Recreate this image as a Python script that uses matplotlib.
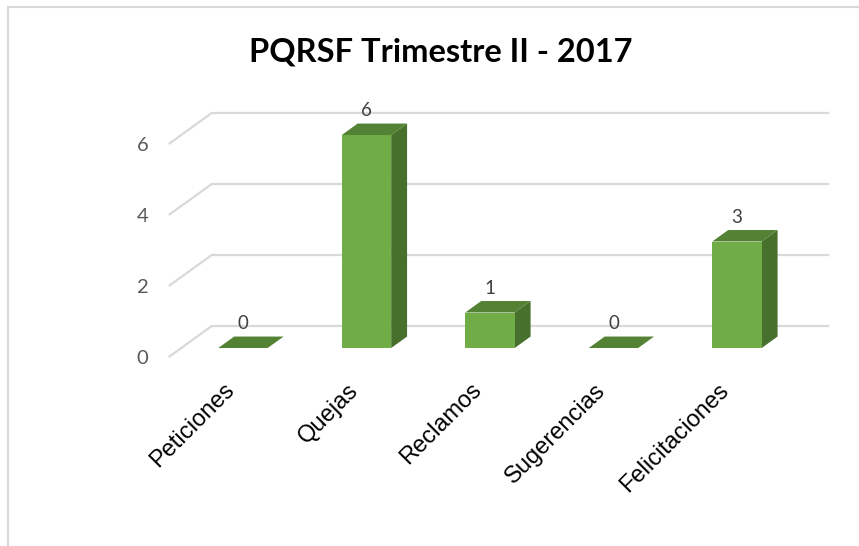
import matplotlib
matplotlib.use('Agg')
import matplotlib.pyplot as plt
import matplotlib.transforms as mtransforms
from matplotlib.patches import Polygon, Rectangle

# ---- data ----
categories = ['Peticiones', 'Quejas', 'Reclamos', 'Sugerencias', 'Felicitaciones']
values = [0, 6, 1, 0, 3]
yticks = [0, 2, 4, 6]
title = 'PQRSF Trimestre II - 2017'

# ---- style / layout ----
W, H, DPI = 859, 546, 100
FRONT, TOP, SIDE = '#70AD47', '#548235', '#46702C'
GRID = '#D9D9D9'

fig = plt.figure(figsize=(W / DPI, H / DPI), dpi=DPI)
fig.patch.set_facecolor('white')

AX_L, AX_R = 168.75, 786.25       # pixels of the front floor edge
FLOOR_Y, PX_UNIT, YMAX = 357, 35.5, 7
ax = fig.add_axes([AX_L / W, (H - FLOOR_Y) / H, (AX_R - AX_L) / W, YMAX * PX_UNIT / H])
ax.set_xlim(-0.5, len(categories) - 0.5)
ax.set_ylim(0, YMAX)
ax.patch.set_visible(False)
for s in ax.spines.values():
    s.set_visible(False)

px_x = (AX_R - AX_L) / len(categories)
DX, DY = 43 / px_x, 31 / PX_UNIT   # full floor depth in data units


def at(x, y, d):
    return (x + d * DX, y + d * DY)


# gridlines (3D walls)
x0, x1 = ax.get_xlim()
for v in yticks:
    p = [at(x0, v, 0), at(x0, v, 1), at(x1, v, 1)]
    ax.plot([q[0] for q in p], [q[1] for q in p], color=GRID, lw=1.6,
            clip_on=False, zorder=1, solid_capstyle='butt')

# bars
D0, D1, BW = 0.29, 0.66, 0.2
for i, v in enumerate(values):
    xl, xr = i - BW, i + BW
    if v > 0:
        ax.add_patch(Polygon([at(xr, 0, D0), at(xr, v, D0), at(xr, v, D1), at(xr, 0, D1)],
                             closed=True, facecolor=SIDE, edgecolor='none', zorder=3, clip_on=False))
        ax.add_patch(Polygon([at(xl, 0, D0), at(xr, 0, D0), at(xr, v, D0), at(xl, v, D0)],
                             closed=True, facecolor=FRONT, edgecolor='none', zorder=4, clip_on=False))
    ax.add_patch(Polygon([at(xl, v, D0), at(xr, v, D0), at(xr, v, D1), at(xl, v, D1)],
                         closed=True, facecolor=TOP, edgecolor='none', zorder=4, clip_on=False))
    ax.annotate(str(v), xy=at(i, v, D0), xytext=(0, 17.5), textcoords='offset points',
                ha='center', va='center', fontsize=13.5, color='#404040',
                family='Lato', annotation_clip=False, zorder=5)

ax.set_yticks(yticks)
ax.set_yticklabels([str(t) for t in yticks], family='Lato')
ax.tick_params(axis='y', length=0, pad=14.5, labelsize=14.5, labelcolor='#595959')

ax.set_xticks(range(len(categories)))
ax.set_xticklabels(categories, rotation=45, ha='right', va='top', rotation_mode='anchor',
                   fontsize=17, family='Liberation Sans', color='black')
ax.tick_params(axis='x', length=0, pad=16)
shift = mtransforms.ScaledTranslation(-7 / DPI, 0, fig.dpi_scale_trans)
for lb in ax.get_xticklabels():
    lb.set_transform(lb.get_transform() + shift)

# title
fig.text(440.5 / W, 1 - 61.7 / H, title, ha='center', va='baseline',
         fontsize=23.5, fontweight='bold', family='Lato', color='black')

# chart border (top and left visible)
fig.add_artist(Rectangle((8 / W, -0.1), 2, 1 - 7 / H + 0.1, transform=fig.transFigure,
                         fill=False, edgecolor='#D9D9D9', lw=1.5))

fig.savefig('out.png', dpi=DPI)
